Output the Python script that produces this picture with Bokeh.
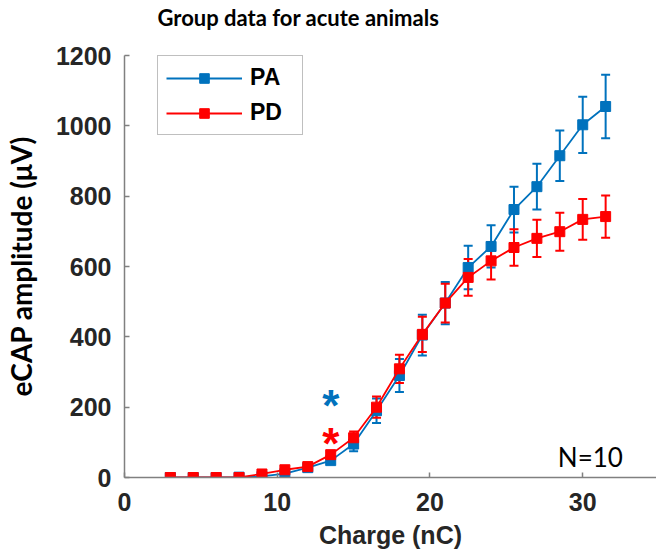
from bokeh.plotting import figure
from bokeh.models import (ColumnDataSource, Whisker, TeeHead, Legend, LegendItem,
                          Range1d, FixedTicker, Label, Title)
from bokeh.core.properties import value
from bokeh.embed import file_html
from bokeh.resources import INLINE

# ---------------- data ----------------
charge = [3.0, 4.5, 6.0, 7.5, 9.0, 10.5, 12.0, 13.5, 15.0, 16.5,
          18.0, 19.5, 21.0, 22.5, 24.0, 25.5, 27.0, 28.5, 30.0, 31.5]
pa_mean = [0, 0, 0, 1, 3, 11, 28, 48, 95, 190,
           290, 405, 496, 597, 657, 762, 827, 915, 1003, 1055]
pa_err = [0, 0, 0, 3, 5, 6, 6, 8, 20, 35,
          47, 58, 60, 62, 60, 65, 65, 72, 80, 90]
pd_mean = [0, 0, 0, 0, 10, 22, 31, 65, 113, 200,
           309, 407, 496, 569, 616, 654, 680, 699, 734, 742]
pd_err = [0, 0, 0, 0, 4, 5, 5, 8, 18, 30,
          40, 50, 55, 52, 53, 52, 53, 54, 58, 60]

series_names = ["PA", "PD"]
series_colors = ["#0072BD", "#FF0000"]
x_ticks = [0, 10, 20, 30]
y_ticks = [0, 200, 400, 600, 800, 1000, 1200]

title_text = "Group data for acute animals"
star_x = [13.5, 13.5]
star_y = [205, 98]
note_text = "N=10"
note_x = 30.5
note_y = 57

TICK_FONT = "Liberation Sans"
CAL_FONT = "Lato"
AX_COLOR = "#262626"

W, H = 656, 555
BL, BT, BB = 122, 55, 78
FRAME_H = H - BT - BB

p = figure(width=W, height=H, output_backend="svg", toolbar_location=None,
           x_range=Range1d(0, 34.83), y_range=Range1d(0, 1200),
           min_border_left=BL, min_border_right=0, min_border_top=BT,
           min_border_bottom=BB)
p.outline_line_color = None
p.grid.visible = False
p.background_fill_color = "white"
p.border_fill_color = "white"

# spacer between frame and title
p.add_layout(Title(text=" ", text_font_size="16px", standoff=2), "above")

p.title.text = title_text
p.title.text_font = CAL_FONT
p.title.text_font_style = "bold"
p.title.text_font_size = "22px"
p.title.text_color = "black"
p.title.align = "left"
p.title.vertical_align = "top"
p.title.offset = 33
p.title.standoff = 4

for ax in (p.xaxis[0], p.yaxis[0]):
    ax.axis_line_color = "#808080"
    ax.axis_line_width = 1.5
    ax.major_tick_line_color = "#808080"
    ax.major_tick_line_width = 1.5
    ax.major_tick_in = 5
    ax.major_tick_out = 0
    ax.minor_tick_line_color = None
    ax.major_label_text_font = TICK_FONT
    ax.major_label_text_font_style = "bold"
    ax.major_label_text_font_size = "25px"
    ax.major_label_text_color = AX_COLOR

p.xaxis[0].ticker = FixedTicker(ticks=x_ticks)
p.yaxis[0].ticker = FixedTicker(ticks=y_ticks)
p.xaxis[0].major_label_standoff = 15
p.yaxis[0].major_label_standoff = 13

p.xaxis[0].axis_label = "Charge (nC)"
p.xaxis[0].axis_label_text_font = TICK_FONT
p.xaxis[0].axis_label_text_font_style = "bold"
p.xaxis[0].axis_label_text_font_size = "25px"
p.xaxis[0].axis_label_text_color = AX_COLOR
p.xaxis[0].axis_label_standoff = 7

p.yaxis[0].axis_label = "eCAP amplitude (μV)"
p.yaxis[0].axis_label_text_font = CAL_FONT
p.yaxis[0].axis_label_text_font_style = "bold"
p.yaxis[0].axis_label_text_font_size = "28px"
p.yaxis[0].axis_label_text_color = "black"
p.yaxis[0].axis_label_standoff = 15

items = []
for name, color, mean, err in zip(series_names, series_colors,
                                  [pa_mean, pd_mean], [pa_err, pd_err]):
    src = ColumnDataSource(dict(
        x=charge, y=mean,
        upper=[m + e for m, e in zip(mean, err)],
        lower=[m - e for m, e in zip(mean, err)]))
    w = Whisker(source=src, base="x", upper="upper", lower="lower",
                line_color=color, line_width=2, level="underlay",
                upper_head=TeeHead(size=9, line_color=color, line_width=2),
                lower_head=TeeHead(size=9, line_color=color, line_width=2))
    p.add_layout(w)
    r_line = p.line("x", "y", source=src, line_color=color, line_width=1.8)
    r_mark = p.scatter("x", "y", source=src, marker="square", size=10,
                       fill_color=color, line_color=color)
    items.append(LegendItem(label=name, renderers=[r_line, r_mark]))

for sx, sy, c in zip(star_x, star_y, series_colors):
    p.add_layout(Label(x=sx, y=sy, text="*", text_color=c,
                       text_font=TICK_FONT, text_font_style="bold",
                       text_font_size="44px", text_align="center",
                       text_baseline="middle"))

p.add_layout(Label(x=note_x, y=note_y, text=note_text, text_color="black",
                   text_font=CAL_FONT, text_font_size="26px",
                   text_align="center", text_baseline="middle"))

legend = Legend(items=items, location=(33, FRAME_H - 80), padding=8, spacing=8,
                label_height=24, glyph_height=24, glyph_width=76,
                label_width=44, label_standoff=8, margin=0,
                label_text_font=TICK_FONT, label_text_font_style="bold",
                label_text_font_size="23px", label_text_color="black",
                border_line_color="#7f7f7f", border_line_width=1.5,
                background_fill_color="white", background_fill_alpha=1)
p.add_layout(legend, "center")

open("out.html", "w").write(file_html(p, INLINE))
